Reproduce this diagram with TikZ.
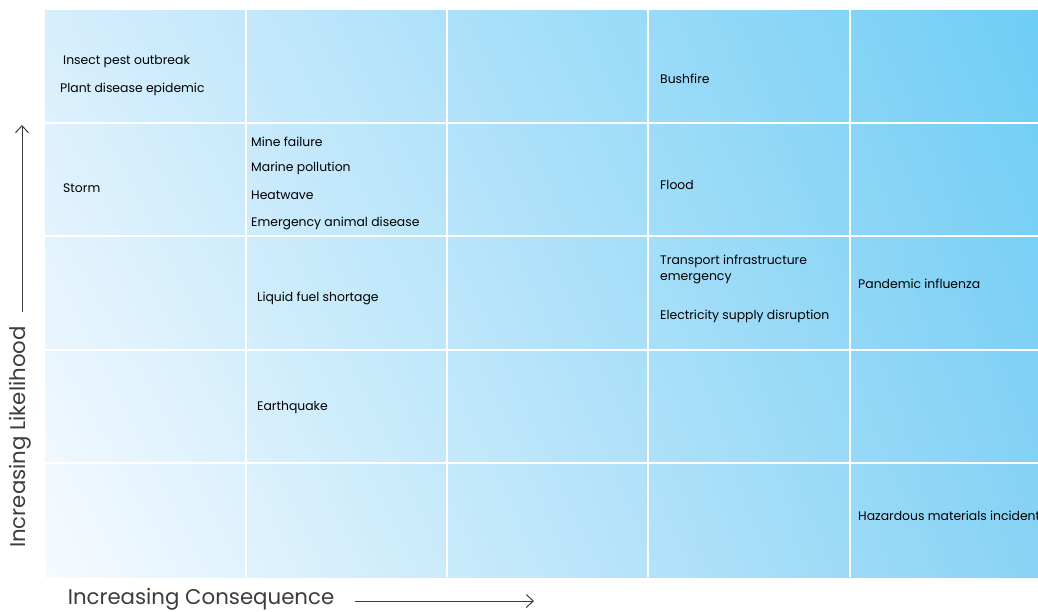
\documentclass[tikz,border=0pt]{standalone}
\usepackage{fontspec}
\setmainfont{Poppins}
\usetikzlibrary{arrows.meta,shadings}
\definecolor{cellhi}{RGB}{110,205,245}
\definecolor{celltl}{RGB}{215,238,252}
\definecolor{cellbr}{RGB}{135,210,245}
\definecolor{celllo}{RGB}{247,251,255}
\definecolor{inkgrey}{RGB}{60,60,60}
\tikzset{
  risk/.style={anchor=west, font=\fontsize{12.4}{16}\selectfont, text=black, inner sep=0pt, yshift=-1.5pt},
  axislabel/.style={font=\fontsize{21.3}{24}\selectfont, text=inkgrey, inner sep=0pt},
  axisarrow/.style={draw=inkgrey, line width=1pt, -{Straight Barb[length=7pt,width=13pt]}}
}
\begin{document}
\begin{tikzpicture}[x=1pt, y=-1pt]
                    \useasboundingbox (0,0) rectangle (1038,611);
                    \begin{scope}
                    \clip (0,0) rectangle (1038,611);
                    \shade [lower left=celllo, upper right=cellhi, upper left=celltl, lower right=cellbr]
                            (45,10) rectangle (1051,577);
                    \foreach \x in {246,447,648,850}
                        \draw [white, line width=1.5pt] (\x,10) -- (\x,577);
                    \foreach \y in {123,236,350,463}
                        \draw [white, line width=1.5pt] (45,\y) -- (1051,\y);
                    \node [risk] (pest) at (63,60) {Insect pest outbreak};
                    \node [risk] (plant) at (60,88) {Plant disease epidemic};
                    \node [risk] (storm) at (63,187) {Storm};
                    \node [risk] (mine) at (251,140) {Mine failure};
                    \node [risk] (marine) at (251,167) {Marine pollution};
                    \node [risk] (heat) at (251,194) {Heatwave};
                    \node [risk] (animal) at (251,222) {Emergency animal disease};
                    \node [risk] (fuel) at (257,297) {Liquid fuel shortage};
                    \node [risk] (quake) at (257,406) {Earthquake};
                    \node [risk] (bush) at (660,77) {Bushfire};
                    \node [risk] (flood) at (660,183) {Flood};
                    \node [risk, align=left] (transport) at (660,268) {Transport infrastructure\\emergency};
                    \node [risk] (power) at (660,315) {Electricity supply disruption};
                    \node [risk] (flu) at (858,282) {Pandemic influenza};
                    \node [risk] (hazmat) at (858,514) {Hazardous materials incident};
                    \end{scope}
                    \node [axislabel, rotate=90] (likely) at (20,437) {Increasing Likelihood};
                    \node [axislabel] (conseq) at (201,599) {Increasing Consequence};
                    \coordinate (up start) at (22,312);
                    \coordinate (up end) at (22,125);
                    \coordinate (right start) at (355,601);
                    \coordinate (right end) at (534,601);
                    \draw [axisarrow] (up start) -- (up end);
                    \draw [axisarrow] (right start) -- (right end);
                \end{tikzpicture}
\end{document}
